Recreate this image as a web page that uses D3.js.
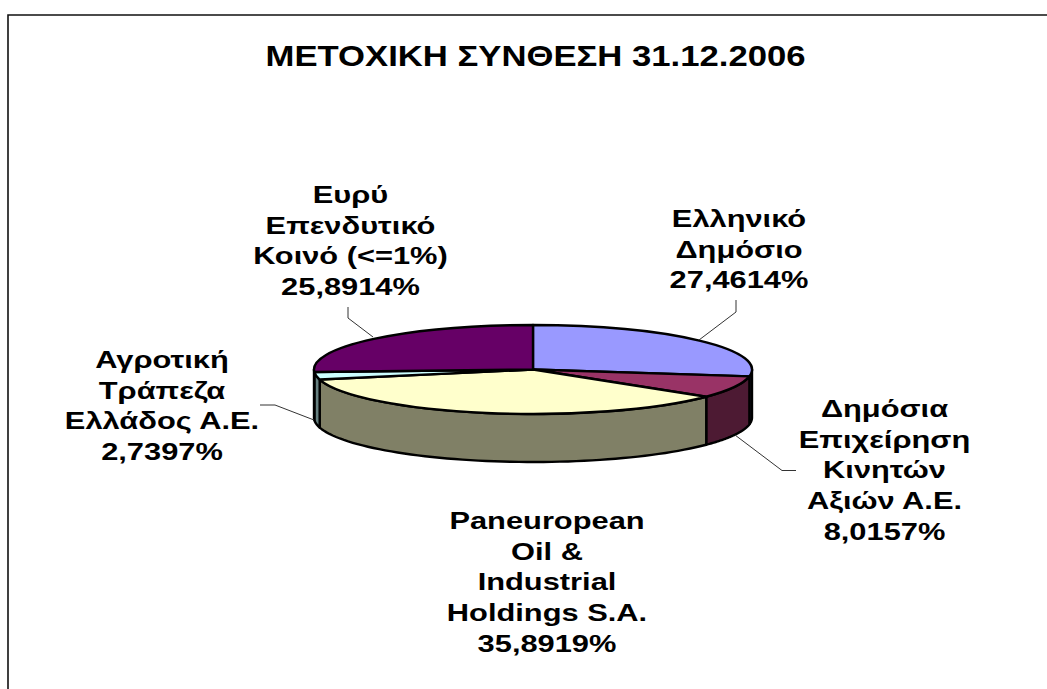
<!DOCTYPE html>
<html><head><meta charset="utf-8">
<script src="https://cdn.jsdelivr.net/npm/d3@7/dist/d3.min.js"></script>
<style>html,body{margin:0;padding:0;background:#fff}svg{display:block}text{font-family:"Liberation Sans",Arial,sans-serif;font-weight:bold;fill:#000}</style>
</head><body><div id="c"></div>
<script>
const title = "ΜΕΤΟΧΙΚΗ ΣΥΝΘΕΣΗ 31.12.2006";
const categories = ["Ελληνικό Δημόσιο","Δημόσια Επιχείρηση Κινητών Αξιών Α.Ε.","Paneuropean Oil & Industrial Holdings S.A.","Αγροτική Τράπεζα Ελλάδος Α.Ε.","Ευρύ Επενδυτικό Κοινό (<=1%)"];
const values = [27.4614, 8.0157, 35.8919, 2.7397, 25.8914];
const valueLabels = ["27,4614%","8,0157%","35,8919%","2,7397%","25,8914%"];
const labelLines = [["Ελληνικό","Δημόσιο"],["Δημόσια","Επιχείρηση","Κινητών","Αξιών Α.Ε."],["Paneuropean","Oil &","Industrial","Holdings S.A."],["Αγροτική","Τράπεζα","Ελλάδος Α.Ε."],["Ευρύ","Επενδυτικό","Κοινό (<=1%)"]];
const topColors = ["#9999FF","#993366","#FFFFCC","#CCFFFF","#660066"];
const sideColors = ["#4C4C80","#4D1A33","#808066","#668080","#330033"];
const labelAnchors = [[739,227],[884.5,417],[547,529],[162,368],[350.5,203]];
const leaders = [[[699,340],[736,312],[736,300]],[[735,435],[782,470.5],[796,470.5]],[[314,420],[275,405],[260,405]],[[373,337],[348,318],[348,307]]];

const W=1047,H=689,cx=533,cy=369.5,rx=219,ry=44.5,depth=48;
const svg=d3.select("#c").append("svg").attr("width",W).attr("height",H);
svg.append("path").attr("d",d3.line()([[1047,15],[8,15],[8,689]])).attr("fill","none").attr("stroke","#111").attr("stroke-width",1.6);
svg.append("text").attr("transform","translate(535.5,66) scale(1.196,1)").attr("text-anchor","middle").attr("font-size",29).text(title);

const slices=d3.pie().sort(null)(values);
const px=t=>cx+rx*Math.sin(t), py=t=>cy-ry*Math.cos(t);
const line=d3.line();
const lo=Math.PI/2, hi=3*Math.PI/2;
slices.forEach((s,i)=>{
  const a=Math.max(s.startAngle,lo), b=Math.min(s.endAngle,hi);
  if(b<=a) return;
  const ts=d3.range(0,61).map(k=>a+(b-a)*k/60);
  const pts=ts.map(t=>[px(t),py(t)]).concat(ts.slice().reverse().map(t=>[px(t),py(t)+depth]));
  svg.append("path").attr("d",line(pts)+"Z").attr("fill",sideColors[i]).attr("stroke","#000").attr("stroke-width",2.4).attr("stroke-linejoin","round");
});
const arc=d3.arc().innerRadius(0).outerRadius(rx);
svg.append("g").attr("transform",`translate(${cx},${cy}) scale(1,${ry/rx})`)
  .selectAll("path").data(slices).join("path").attr("d",arc)
  .attr("fill",(d,i)=>topColors[i]).attr("stroke","#000").attr("stroke-width",2.4).attr("vector-effect","non-scaling-stroke").attr("stroke-linejoin","round");
svg.selectAll("path.l").data(leaders).join("path").attr("class","l").attr("d",d=>line(d)).attr("fill","none").attr("stroke","#333").attr("stroke-width",1);
const lh=30.7;
categories.forEach((c,i)=>{
  const t=svg.append("text").attr("transform",`translate(${labelAnchors[i][0]},${labelAnchors[i][1]}) scale(1.34,1)`).attr("text-anchor","middle").attr("font-size",23);
  labelLines[i].concat([valueLabels[i]]).forEach((s,k)=>t.append("tspan").attr("x",0).attr("y",k*lh).text(s));
});
</script></body></html>
